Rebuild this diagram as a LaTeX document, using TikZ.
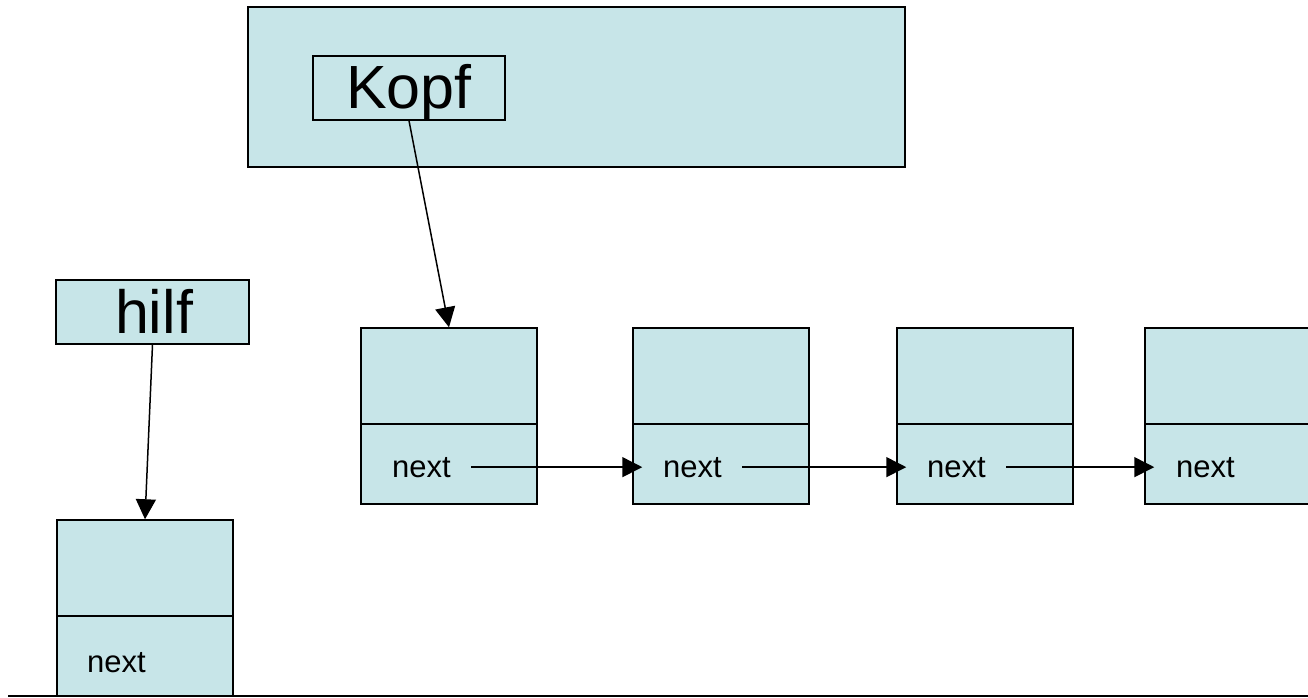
\documentclass[tikz,border=0pt]{standalone}
\usepackage{fontspec}
\setmainfont{Liberation Sans}
\usetikzlibrary{arrows.meta}
\definecolor{cellfill}{RGB}{199,229,232}
\begin{document}
\begin{tikzpicture}[x=1pt,y=-1pt,
  box/.style={draw=black, fill=cellfill, line width=1.5pt, inner sep=0pt, rectangle},
  toppart/.style={box, minimum width=176pt, minimum height=96pt},
  botpart/.style={box, minimum width=176pt, minimum height=80pt},
  biglbl/.style={font=\fontsize{61}{72}\selectfont, inner sep=0pt, anchor=base},
  nexttxt/.style={font=\fontsize{31}{36}\selectfont, inner sep=0pt, anchor=base west},
  arr/.style={line width=1.5pt, -{Triangle[length=20pt,width=20pt]}}]
\useasboundingbox (0,0) rectangle (1308,697);
\clip (0,0) rectangle (1308,697);
% Head object
\node[box, minimum width=657pt, minimum height=160pt] (big) at (576.5,87) {};
\node[box, minimum width=192pt, minimum height=64pt] (kopf) at (409,88) {};
\node[biglbl] (kopft) at (409,108) {Kopf};
% hilf
\node[box, minimum width=193pt, minimum height=64pt] (hilf) at (152.5,312) {};
\node[biglbl] (hilft) at (154,333) {hilf};
% list elements
\node[toppart] (n1t) at (449,376) {};
\node[botpart] (n1b) at (449,464) {};
\node[toppart] (n2t) at (721,376) {};
\node[botpart] (n2b) at (721,464) {};
\node[toppart] (n3t) at (985,376) {};
\node[botpart] (n3b) at (985,464) {};
\node[toppart] (n4t) at (1233,376) {};
\node[botpart] (n4b) at (1233,464) {};
\node[nexttxt] (t1) at (392,477) {next};
\node[nexttxt] (t2) at (663,477) {next};
\node[nexttxt] (t3) at (927,477) {next};
\node[nexttxt] (t4) at (1176,477) {next};
% hilf element
\node[toppart] (h0t) at (145,568) {};
\node[botpart] (h0b) at (145,656) {};
\node[nexttxt] (t0) at (87,672) {next};
% bottom rule
\draw[line width=1.5pt] (8,696) -- (1308,696);
% connectors
\draw[arr] (kopf.south) -- (n1t.north);
\draw[arr] (hilf.south) -- (h0t.north);
\draw[arr] ([xshift=20pt]t1.east) -- ([xshift=10pt]n2b.west |- t1.east);
\draw[arr] ([xshift=20pt]t2.east) -- ([xshift=10pt]n3b.west |- t2.east);
\draw[arr] ([xshift=20pt]t3.east) -- ([xshift=10pt]n4b.west |- t3.east);
\end{tikzpicture}
\end{document}
